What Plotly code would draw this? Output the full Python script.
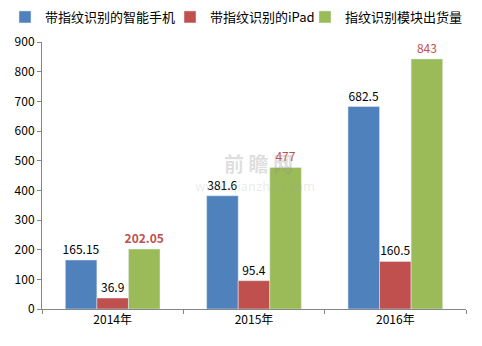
import plotly.graph_objects as go

categories = ["2014年", "2015年", "2016年"]
series_names = ["带指纹识别的智能手机", "带指纹识别的iPad", "指纹识别模块出货量"]
phones = [165.15, 381.6, 682.5]
ipads = [36.9, 95.4, 160.5]
modules = [202.05, 477, 843]
phone_labels = ["165.15", "381.6", "682.5"]
ipad_labels = ["36.9", "95.4", "160.5"]
module_labels = ["<b>202.05</b>", "477", "843"]

colors = ["#4f81bd", "#c0504d", "#9bbb59"]
font_family = "Noto Sans CJK SC, Noto Sans, sans-serif"

W, H = 482, 346
L, R, T, B = 42, 16, 42, 37
PW, PH = W - L - R, H - T - B


def px_x(px):
    return (px - L) / PW


def px_y(py):
    return (H - B - py) / PH


fig = go.Figure()
specs = [
    (series_names[0], phones, phone_labels, colors[0], "#000000", "legend"),
    (series_names[1], ipads, ipad_labels, colors[1], "#000000", "legend2"),
    (series_names[2], modules, module_labels, colors[2], "#c0504d", "legend3"),
]
for name, vals, labels, col, tcol, leg in specs:
    fig.add_trace(go.Bar(
        x=categories, y=vals, name=name, marker_color=col,
        text=labels, texttemplate="%{text}", textposition="outside",
        textfont=dict(color=tcol, size=12, family=font_family),
        constraintext="none",
        cliponaxis=False, legend=leg,
    ))

# faint watermark
fig.add_annotation(x=px_x(258), y=px_y(163), xref="paper", yref="paper",
                   text="<b>前 瞻 网</b>", showarrow=False,
                   font=dict(size=20, color="rgba(140,140,140,0.28)", family=font_family))
fig.add_annotation(x=px_x(255), y=px_y(185), xref="paper", yref="paper",
                   text="www.qianzhan.com", showarrow=False,
                   font=dict(size=13, color="rgba(160,160,160,0.22)", family=font_family))

leg_common = dict(orientation="h", yref="paper", xref="paper",
                  y=px_y(17), yanchor="middle", xanchor="left",
                  font=dict(size=13, color="#000000", family=font_family),
                  bgcolor="rgba(0,0,0,0)", itemwidth=30)

fig.update_layout(
    width=W, height=H,
    margin=dict(l=L, r=R, t=T, b=B, autoexpand=False),
    paper_bgcolor="white", plot_bgcolor="white",
    barmode="group", bargap=0.33, bargroupgap=0,
    font=dict(family=font_family, size=12, color="#000000"),
    showlegend=True,
    legend=dict(x=px_x(5), **leg_common),
    legend2=dict(x=px_x(170), **leg_common),
    legend3=dict(x=px_x(305), **leg_common),
    xaxis=dict(showline=True, linecolor="#868686", ticks="outside", tickson="boundaries",
               ticklen=4, tickcolor="#868686", showgrid=False,
               tickfont=dict(size=12)),
    yaxis=dict(range=[0, 900], dtick=100, showline=True, linecolor="#868686",
               ticks="outside", ticklen=4, tickcolor="#868686", showgrid=False,
               zeroline=False, tickfont=dict(size=12)),
)

fig.write_html("out.html")
